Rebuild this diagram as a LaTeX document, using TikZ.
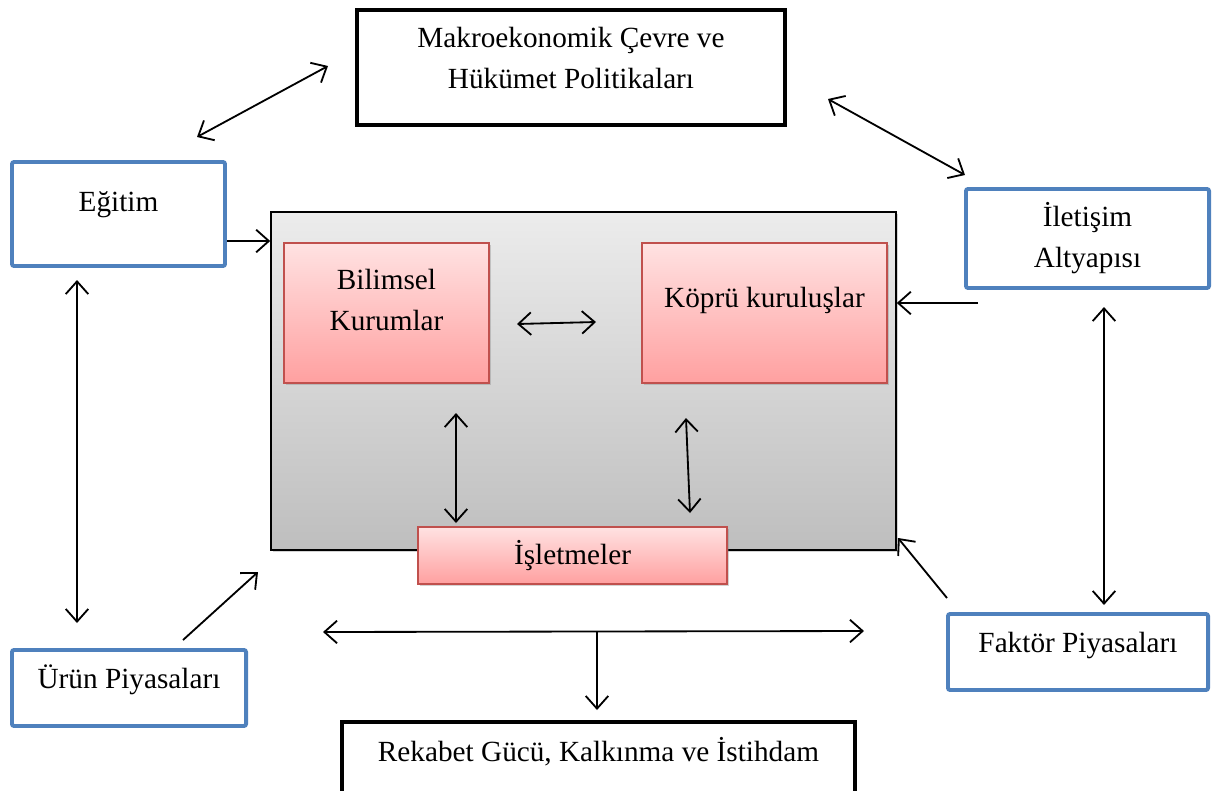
\documentclass[tikz,border=0pt]{standalone}
\usepackage{fontspec}
\setmainfont{Liberation Serif}
\usepackage{tikz}
\usetikzlibrary{arrows.meta,shadows}
\definecolor{boxblue}{RGB}{79,129,189}
\definecolor{pinkline}{RGB}{192,80,77}
\definecolor{pinktop}{RGB}{255,226,226}
\definecolor{pinkbot}{RGB}{255,160,160}
\definecolor{greytop}{RGB}{236,236,236}
\definecolor{greybot}{RGB}{190,190,190}

\begin{document}
\begin{tikzpicture}[x=0.025cm, y=-0.025cm,
     font={\fontsize{20.8}{28.5}\selectfont},
     bluebox/.style={draw=boxblue, line width=2.8pt, rounded corners=1.5pt, fill=white, inner sep=0pt, align=center},
     blackbox/.style={draw=black, line width=3pt, fill=white, inner sep=0pt, align=center},
     greybox/.style={draw=black, line width=1pt, top color=greytop, bottom color=greybot,
          drop shadow={shadow xshift=1.5pt, shadow yshift=-1.5pt, opacity=0.35}},
     pinkbox/.style={draw=pinkline, line width=1pt, top color=pinktop, bottom color=pinkbot, inner sep=0pt, align=center,
          drop shadow={shadow xshift=1.2pt, shadow yshift=-1.5pt, opacity=0.35}},
     arr/.style={-{Straight Barb[length=9pt,width=16pt]}, line width=1.3pt},
     dblarr/.style={{Straight Barb[length=9pt,width=16pt]}-{Straight Barb[length=9pt,width=16pt]}, line width=1.3pt}]
     \useasboundingbox (0,0) rectangle (1213,791);
     \clip (0,0) rectangle (1213,791);

     % outer boxes
     \node[blackbox, minimum width=10.7cm, text height=1.95cm, text depth=0.925cm] (makro) at (571,67.5) {Makroekonomik Çevre ve\\Hükümet Politikaları};
     \node[bluebox, minimum width=5.325cm, text height=1.225cm, text depth=1.375cm] (egitim) at (118.5,214) {Eğitim};
     \node[bluebox, minimum width=6.075cm, text height=1.95cm, text depth=0.525cm] (iletisim) at (1087.5,238.5) {İletişim\\Altyapısı};
     \node[bluebox, minimum width=6.5cm, text height=0.95cm, text depth=0.95cm] (faktor) at (1078,652) {Faktör Piyasaları};
     \node[bluebox, minimum width=5.85cm, text height=0.95cm, text depth=0.95cm] (urun) at (129,688) {Ürün Piyasaları};
     \node[blackbox, minimum width=12.825cm, text height=0.975cm, text depth=1.225cm] (rekabet) at (598.5,766) {Rekabet Gücü, Kalkınma ve İstihdam};

     % central system
     \node[greybox, minimum width=15.625cm, minimum height=8.45cm] (sistem) at (583.5,381) {};
     \node[pinkbox, minimum width=5.125cm, text height=2.175cm, text depth=1.325cm] (bilimsel) at (386.5,313) {Bilimsel\\Kurumlar};
     \node[pinkbox, minimum width=6.125cm, text height=1.6cm, text depth=1.9cm] (kopru) at (764.5,313) {Köprü kuruluşlar};
     \node[pinkbox, minimum width=7.725cm, text height=0.925cm, text depth=0.5cm] (isletme) at (572.5,555.5) {İşletmeler};

     % arrow ends
     \coordinate (me1) at (197,137);  \coordinate (me2) at (328,66);
     \coordinate (mi1) at (828,99);   \coordinate (mi2) at (965,175);
     \coordinate (eg)  at (227,241);
     \coordinate (il)  at (978,303);
     \coordinate (bk1) at (517,324);  \coordinate (bk2) at (596,322);
     \coordinate (bi1) at (456,413);  \coordinate (bi2) at (456,523);
     \coordinate (ki1) at (686,418);  \coordinate (ki2) at (690,513);
     \coordinate (if1) at (1104,307); \coordinate (if2) at (1104,605);
     \coordinate (eu1) at (77,280);   \coordinate (eu2) at (77,623);
     \coordinate (ur1) at (183,640);  \coordinate (ur2) at (258,572);
     \coordinate (fa1) at (947,598);  \coordinate (fa2) at (898,538);
     \coordinate (pz1) at (323,632);  \coordinate (pz2) at (864,631);
     \coordinate (pz3) at (597,632);  \coordinate (pz4) at (597,710);

     \draw[dblarr] (me1) -- (me2);
     \draw[dblarr] (mi1) -- (mi2);
     \draw[arr] (eg) -- (eg -| sistem.west);
     \draw[arr] (il) -- (il -| sistem.east);
     \draw[dblarr] (bk1) -- (bk2);
     \draw[dblarr] (bi1) -- (bi2);
     \draw[dblarr] (ki1) -- (ki2);
     \draw[dblarr] (if1) -- (if2);
     \draw[dblarr] (eu1) -- (eu2);
     \draw[arr] (ur1) -- (ur2);
     \draw[arr] (fa1) -- (fa2);
     \draw[dblarr] (pz1) -- (pz2);
     \draw[arr] (pz3) -- (pz4);
\end{tikzpicture}
\end{document}
